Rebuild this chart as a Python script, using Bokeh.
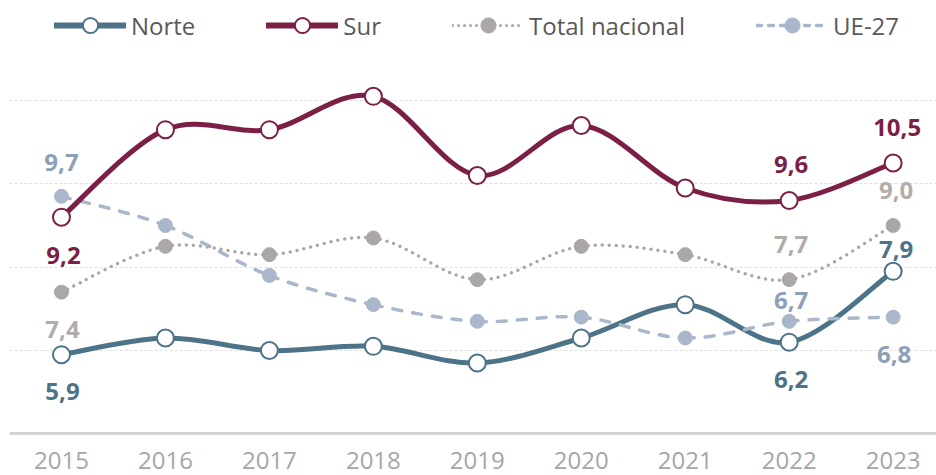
from bokeh.plotting import figure
from bokeh.models import Range1d, FixedTicker, Legend, LegendItem, ColumnDataSource, LinearAxis
from bokeh.core.properties import value
from bokeh.embed import file_html
from bokeh.resources import INLINE

# ---- data ----
years = [2015, 2016, 2017, 2018, 2019, 2020, 2021, 2022, 2023]
year_labels = ["2015", "2016", "2017", "2018", "2019", "2020", "2021", "2022", "2023"]
norte = [5.9, 6.3, 6.0, 6.1, 5.7, 6.3, 7.1, 6.2, 7.9]
sur = [9.2, 11.3, 11.3, 12.1, 10.2, 11.4, 9.9, 9.6, 10.5]
total_nacional = [7.4, 8.5, 8.3, 8.7, 7.7, 8.5, 8.3, 7.7, 9.0]
ue27 = [9.7, 9.0, 7.8, 7.1, 6.7, 6.8, 6.3, 6.7, 6.8]
series_names = ["Norte", "Sur", "Total nacional", "UE-27"]
grid_ticks = [6, 8, 10, 12]

FONT = "Open Sans"

C_NORTE = "#4D7389"
C_SUR = "#7C1F47"
C_TOTAL = "#ABA7A6"
C_UE = "#AAB7CB"
L_UE = "#8DA0B8"
L_TOTAL = "#B0ACAB"

p = figure(width=936, height=475,
           x_range=Range1d(2014.5, 2023.417), y_range=Range1d(3.0, 14.40),
           output_backend="svg", toolbar_location=None,
           x_axis_location=None, y_axis_location=None,
           min_border_left=9, min_border_right=0, min_border_top=0, min_border_bottom=0)
p.outline_line_color = None
p.background_fill_color = "white"
p.xgrid.visible = False
p.ygrid.ticker = FixedTicker(ticks=grid_ticks)
p.ygrid.grid_line_color = "#E0E0E0"
p.ygrid.grid_line_width = 1
p.ygrid.grid_line_dash = "3 2"

xaxis = LinearAxis(ticker=FixedTicker(ticks=years), fixed_location=4)
xaxis.major_label_overrides = {y: l for y, l in zip(years, year_labels)}
xaxis.axis_line_color = "#D4D2D3"
xaxis.axis_line_width = 3
xaxis.major_tick_line_color = None
xaxis.minor_tick_line_color = None
xaxis.major_label_text_font = FONT
xaxis.major_label_text_font_size = "24px"
xaxis.major_label_text_color = "#A6A6A6"
xaxis.major_label_standoff = 12
p.add_layout(xaxis, "below")


def smooth_source(vals):
    n = len(vals)
    d = dict(x0=[], y0=[], x1=[], y1=[], cx0=[], cy0=[], cx1=[], cy1=[])
    for i in range(n - 1):
        im = max(i - 1, 0)
        ip = min(i + 2, n - 1)
        d["x0"].append(years[i]); d["y0"].append(vals[i])
        d["x1"].append(years[i + 1]); d["y1"].append(vals[i + 1])
        d["cx0"].append(years[i] + (years[i + 1] - years[im]) / 6)
        d["cy0"].append(vals[i] + (vals[i + 1] - vals[im]) / 6)
        d["cx1"].append(years[i + 1] - (years[ip] - years[i]) / 6)
        d["cy1"].append(vals[i + 1] - (vals[ip] - vals[i]) / 6)
    return ColumnDataSource(d)


styles = {
    "Norte": (norte, dict(line_color=C_NORTE, line_width=5, line_cap="round"),
              dict(size=17, fill_color="white", line_color=C_NORTE, line_width=2),
              dict(line_color=C_NORTE, line_width=6, line_cap="round")),
    "Sur": (sur, dict(line_color=C_SUR, line_width=5, line_cap="round"),
            dict(size=17, fill_color="white", line_color=C_SUR, line_width=2),
            dict(line_color=C_SUR, line_width=6, line_cap="round")),
    "Total nacional": (total_nacional,
                       dict(line_color=C_TOTAL, line_width=3.5, line_dash="0 7", line_cap="round"),
                       dict(size=14, fill_color=C_TOTAL, line_color=C_TOTAL, line_width=1),
                       dict(line_color=C_TOTAL, line_width=3, line_dash="0 6", line_cap="round")),
    "UE-27": (ue27, dict(line_color=C_UE, line_width=3.5, line_dash="9 11", line_cap="round"),
              dict(size=14, fill_color=C_UE, line_color=C_UE, line_width=1),
              dict(line_color=C_UE, line_width=3.5, line_dash="5 7", line_cap="round")),
}

draw_order = ["Norte", "Total nacional", "UE-27", "Sur"]
legend_parts = {}
for name in draw_order:
    vals, lstyle, mstyle, legstyle = styles[name]
    src = smooth_source(vals)
    p.bezier(x0="x0", y0="y0", x1="x1", y1="y1", cx0="cx0", cy0="cy0",
             cx1="cx1", cy1="cy1", source=src, **lstyle)
    dummy = p.line(x=[float("nan")], y=[float("nan")], **legstyle)
    sc = p.scatter(x=years, y=vals, marker="circle", **mstyle)
    legend_parts[name] = [dummy, sc]

items = [LegendItem(label=name, renderers=legend_parts[name]) for name in series_names]
legend = Legend(items=items, orientation="horizontal", location=(45, 431),
                label_text_font=FONT, label_text_font_size="24px",
                label_text_color="#595959", glyph_width=72, glyph_height=38,
                label_standoff=5, spacing=71, padding=0, margin=0,
                border_line_color=None, background_fill_alpha=0)
p.add_layout(legend, "center")

# ---- data labels ----
series_vals = {"norte": norte, "sur": sur, "total": total_nacional, "ue": ue27}
label_colors = {"norte": C_NORTE, "sur": C_SUR, "total": L_TOTAL, "ue": L_UE}
label_specs = [
    ("ue", 0, 0, -34), ("sur", 0, 2, 38), ("total", 0, 1, 37), ("norte", 0, 1, 37),
    ("sur", 7, 2, -36), ("sur", 8, 4, -36), ("total", 8, 3, -35), ("total", 7, 2, -35),
    ("norte", 8, 3, -22), ("ue", 7, 2, -21), ("norte", 7, 2, 37), ("ue", 8, 1, 37),
]
for key in ["norte", "sur", "total", "ue"]:
    specs = [s for s in label_specs if s[0] == key]
    vals = series_vals[key]
    src = ColumnDataSource(dict(
        x=[years[s[1]] for s in specs],
        y=[vals[s[1]] for s in specs],
        t=[f"{vals[s[1]]:.1f}".replace(".", ",") for s in specs],
        xo=[s[2] for s in specs],
        yo=[s[3] for s in specs],
    ))
    p.text(x="x", y="y", text="t", x_offset="xo", y_offset="yo", source=src,
           text_font=value(FONT), text_font_size="24px", text_font_style="bold",
           text_color=label_colors[key], text_align="center", text_baseline="middle")

open("out.html", "w").write(file_html(p, INLINE))
